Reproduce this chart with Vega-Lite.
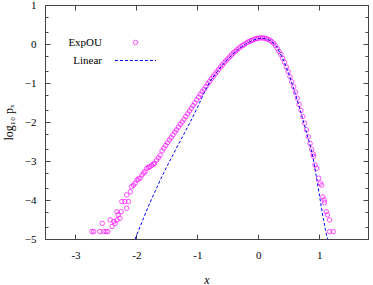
{
  "$schema": "https://vega.github.io/schema/vega-lite/v6.json",
  "width": 323,
  "height": 234,
  "autosize": "none",
  "padding": {"left": 45, "top": 5, "right": 5, "bottom": 46},
  "background": "white",
  "config": {
    "view": {"stroke": "#444", "strokeWidth": 1},
    "font": "Liberation Serif",
    "axis": {"grid": false, "domainColor": "#444", "tickColor": "#444", "labelFont": "Liberation Serif", "labelFontSize": 11, "labelColor": "#000", "titleFont": "Liberation Serif", "titleFontSize": 12, "titleFontWeight": "normal", "titleColor": "#000"}
  },
  "datasets": {
    "expou": [
      {"x": -2.73, "y": -4.81}, {"x": -2.70, "y": -4.81}, {"x": -2.60, "y": -4.81}, {"x": -2.54, "y": -4.81}, {"x": -2.50, "y": -4.81}, {"x": -2.47, "y": -4.81},
      {"x": -2.56, "y": -4.60}, {"x": -2.43, "y": -4.51}, {"x": -2.40, "y": -4.68}, {"x": -2.37, "y": -4.55}, {"x": -2.35, "y": -4.60}, {"x": -2.32, "y": -4.51},
      {"x": -2.30, "y": -4.38}, {"x": -2.27, "y": -4.47}, {"x": -2.32, "y": -4.30}, {"x": -2.25, "y": -4.30}, {"x": -2.16, "y": -4.21}, {"x": -2.24, "y": -4.04},
      {"x": -2.19, "y": -4.04}, {"x": -2.13, "y": -4.04}, {"x": -2.16, "y": -3.87}, {"x": -2.10, "y": -3.79}, {"x": -2.08, "y": -3.66}, {"x": -2.05, "y": -3.62},
      {"x": -2.02, "y": -3.57}, {"x": -1.99, "y": -3.49}, {"x": -1.97, "y": -3.46}, {"x": -1.94, "y": -3.44}, {"x": -1.91, "y": -3.36}, {"x": -1.88, "y": -3.31},
      {"x": -1.86, "y": -3.27}, {"x": -1.83, "y": -3.19}, {"x": -1.80, "y": -3.16}, {"x": -1.78, "y": -3.15}, {"x": -1.75, "y": -3.11}, {"x": -1.72, "y": -3.08},
      {"x": -1.70, "y": -3.06}, {"x": -1.67, "y": -2.98}, {"x": -1.64, "y": -2.92}, {"x": -1.61, "y": -2.85}, {"x": -1.58, "y": -2.74}, {"x": -1.55, "y": -2.67},
      {"x": -1.52, "y": -2.60}, {"x": -1.49, "y": -2.53}, {"x": -1.46, "y": -2.46}, {"x": -1.43, "y": -2.40}, {"x": -1.40, "y": -2.33}, {"x": -1.37, "y": -2.26},
      {"x": -1.34, "y": -2.20}, {"x": -1.31, "y": -2.13}, {"x": -1.28, "y": -2.06}, {"x": -1.25, "y": -2.00}, {"x": -1.22, "y": -1.93}, {"x": -1.19, "y": -1.86},
      {"x": -1.16, "y": -1.79}, {"x": -1.13, "y": -1.72}, {"x": -1.10, "y": -1.65}, {"x": -1.07, "y": -1.58}, {"x": -1.04, "y": -1.51}, {"x": -1.01, "y": -1.43},
      {"x": -0.98, "y": -1.36}, {"x": -0.95, "y": -1.29}, {"x": -0.92, "y": -1.22}, {"x": -0.89, "y": -1.16}, {"x": -0.86, "y": -1.09}, {"x": -0.83, "y": -1.02},
      {"x": -0.80, "y": -0.96}, {"x": -0.77, "y": -0.89}, {"x": -0.74, "y": -0.83}, {"x": -0.71, "y": -0.77}, {"x": -0.68, "y": -0.71}, {"x": -0.65, "y": -0.65},
      {"x": -0.62, "y": -0.59}, {"x": -0.59, "y": -0.54}, {"x": -0.56, "y": -0.48}, {"x": -0.53, "y": -0.43}, {"x": -0.50, "y": -0.38}, {"x": -0.47, "y": -0.33},
      {"x": -0.44, "y": -0.28}, {"x": -0.41, "y": -0.23}, {"x": -0.38, "y": -0.19}, {"x": -0.35, "y": -0.15}, {"x": -0.32, "y": -0.11}, {"x": -0.29, "y": -0.07},
      {"x": -0.26, "y": -0.04}, {"x": -0.23, "y": -0.01}, {"x": -0.20, "y": 0.02}, {"x": -0.17, "y": 0.05}, {"x": -0.14, "y": 0.07}, {"x": -0.11, "y": 0.09},
      {"x": -0.08, "y": 0.11}, {"x": -0.05, "y": 0.13}, {"x": -0.02, "y": 0.14}, {"x": 0.01, "y": 0.15}, {"x": 0.04, "y": 0.16}, {"x": 0.07, "y": 0.155},
      {"x": 0.10, "y": 0.15}, {"x": 0.13, "y": 0.14}, {"x": 0.16, "y": 0.12}, {"x": 0.19, "y": 0.10}, {"x": 0.22, "y": 0.06}, {"x": 0.25, "y": 0.02},
      {"x": 0.28, "y": -0.04}, {"x": 0.31, "y": -0.11}, {"x": 0.34, "y": -0.19}, {"x": 0.37, "y": -0.27}, {"x": 0.40, "y": -0.37}, {"x": 0.43, "y": -0.47},
      {"x": 0.46, "y": -0.59}, {"x": 0.49, "y": -0.71}, {"x": 0.52, "y": -0.84}, {"x": 0.55, "y": -0.97}, {"x": 0.58, "y": -1.10}, {"x": 0.61, "y": -1.24},
      {"x": 0.64, "y": -1.39}, {"x": 0.67, "y": -1.55}, {"x": 0.70, "y": -1.70}, {"x": 0.73, "y": -1.86}, {"x": 0.76, "y": -2.03}, {"x": 0.79, "y": -2.20},
      {"x": 0.82, "y": -2.38}, {"x": 0.85, "y": -2.55}, {"x": 0.875, "y": -2.70}, {"x": 0.90, "y": -2.82}, {"x": 0.906, "y": -2.88}, {"x": 0.93, "y": -3.10},
      {"x": 0.96, "y": -3.19}, {"x": 0.99, "y": -3.44}, {"x": 1.016, "y": -3.57}, {"x": 1.04, "y": -3.62}, {"x": 1.06, "y": -3.92}, {"x": 1.08, "y": -4.00},
      {"x": 1.086, "y": -4.07}, {"x": 1.114, "y": -4.30}, {"x": 1.135, "y": -4.38}, {"x": 1.17, "y": -4.51}, {"x": 1.17, "y": -4.81}, {"x": 1.23, "y": -4.81}
    ],
    "linear": [
      {"x": -2.02, "y": -5.0}, {"x": -1.9, "y": -4.53}, {"x": -1.8, "y": -4.15}, {"x": -1.7, "y": -3.80}, {"x": -1.6, "y": -3.46}, {"x": -1.5, "y": -3.14},
      {"x": -1.4, "y": -2.84}, {"x": -1.3, "y": -2.54}, {"x": -1.2, "y": -2.25}, {"x": -1.1, "y": -1.95}, {"x": -1.0, "y": -1.63}, {"x": -0.9, "y": -1.29},
      {"x": -0.8, "y": -0.98}, {"x": -0.7, "y": -0.76}, {"x": -0.6, "y": -0.56}, {"x": -0.5, "y": -0.39}, {"x": -0.4, "y": -0.23}, {"x": -0.3, "y": -0.10},
      {"x": -0.2, "y": 0.01}, {"x": -0.1, "y": 0.09}, {"x": 0.0, "y": 0.14}, {"x": 0.05, "y": 0.15}, {"x": 0.1, "y": 0.14}, {"x": 0.2, "y": 0.09},
      {"x": 0.3, "y": -0.06}, {"x": 0.4, "y": -0.37}, {"x": 0.5, "y": -0.76}, {"x": 0.6, "y": -1.24}, {"x": 0.7, "y": -1.76}, {"x": 0.8, "y": -2.32},
      {"x": 0.85, "y": -2.6}, {"x": 0.9, "y": -2.93}, {"x": 0.95, "y": -3.38}, {"x": 1.0, "y": -3.85}, {"x": 1.05, "y": -4.33}, {"x": 1.1, "y": -4.75},
      {"x": 1.135, "y": -5.0}
    ]
  },
  "resolve": {"axis": {"x": "independent", "y": "independent"}},
  "layer": [
    {
      "data": {"name": "expou"},
      "mark": {"type": "point", "filled": false, "size": 20, "strokeWidth": 1, "clip": true},
      "encoding": {
        "x": {"field": "x", "type": "quantitative", "scale": {"domain": [-3.5, 1.8], "nice": false, "zero": false},
          "axis": {"orient": "bottom", "title": "x", "titleFontStyle": "italic", "values": [-3, -2, -1, 0, 1], "format": "d", "ticks": false, "domain": false, "labelPadding": 10, "titlePadding": 14, "labelExpr": "replace(datum.label, '−', '-')"}},
        "y": {"field": "y", "type": "quantitative", "scale": {"domain": [-5, 1], "nice": false, "zero": false},
          "axis": {"orient": "left", "title": "log₁₀ pₓ", "values": [-5, -4, -3, -2, -1, 0, 1], "format": "d", "ticks": false, "domain": false, "labelPadding": 9, "titlePadding": 9}},
        "color": {"datum": "ExpOU", "type": "nominal",
          "scale": {"domain": ["ExpOU"], "range": ["#ff00ff"]},
          "legend": {"orient": "none", "legendX": 85, "legendY": 32, "title": null, "padding": 0, "labelFont": "Liberation Serif", "labelFontSize": 11, "labelColor": "#000",
            "labelAlign": "right", "labelOffset": -39, "symbolSize": 20, "symbolStrokeWidth": 1, "symbolType": "circle", "symbolFillColor": "transparent"}}
      }
    },
    {
      "data": {"name": "linear"},
      "mark": {"type": "line", "color": "#0000ff", "strokeWidth": 1, "clip": true},
      "encoding": {
        "x": {"field": "x", "type": "quantitative", "axis": {"orient": "top", "offset": -234, "title": null, "labels": false, "values": [-3, -2, -1, 0, 1], "tickSize": 5}},
        "y": {"field": "y", "type": "quantitative", "axis": {"orient": "right", "offset": -323, "title": null, "labels": false,
          "values": [-5, -4.699, -4.301, -4, -3.699, -3.301, -3, -2.699, -2.301, -2, -1.699, -1.301, -1, -0.699, -0.301, 0, 0.301, 0.699, 1],
          "tickSize": {"condition": {"test": "datum.value % 1 === 0", "value": 5}, "value": 3}}},
        "strokeDash": {"datum": "Linear", "type": "nominal",
          "scale": {"domain": ["Linear"], "range": [[3, 2]]},
          "legend": {"orient": "none", "legendX": 85, "legendY": 50, "title": null, "padding": 0, "labelFont": "Liberation Serif", "labelFontSize": 11, "labelColor": "#000",
            "labelAlign": "right", "labelOffset": -39, "symbolSize": 20, "symbolStrokeWidth": 1, "symbolType": "M-9.2,0H9.2", "symbolStrokeColor": "#0000ff", "symbolFillColor": "transparent"}}
      }
    },
    {
      "data": {"name": "linear"},
      "mark": {"type": "line", "opacity": 0},
      "encoding": {
        "x": {"field": "x", "type": "quantitative", "axis": {"orient": "bottom", "offset": -234, "title": null, "labels": false, "values": [-3, -2, -1, 0, 1], "tickSize": 5}},
        "y": {"field": "y", "type": "quantitative", "axis": {"orient": "left", "offset": -323, "title": null, "labels": false,
          "values": [-5, -4.699, -4.301, -4, -3.699, -3.301, -3, -2.699, -2.301, -2, -1.699, -1.301, -1, -0.699, -0.301, 0, 0.301, 0.699, 1],
          "tickSize": {"condition": {"test": "datum.value % 1 === 0", "value": 5}, "value": 3}}}
      }
    }
  ]
}
